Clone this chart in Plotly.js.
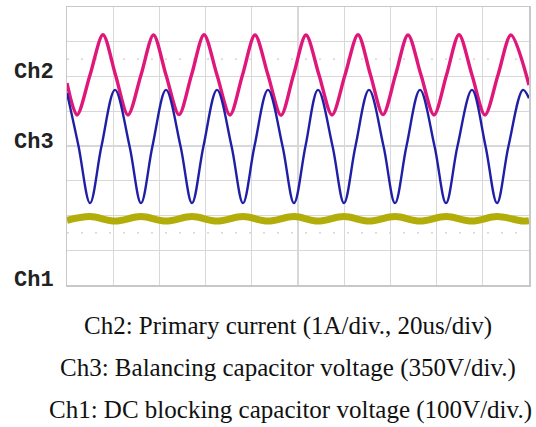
<!DOCTYPE html>
<html>
<head>
<meta charset="utf-8">
<script src="https://cdn.plot.ly/plotly-3.0.1.min.js"></script>
<style>html,body{margin:0;padding:0;background:#fff;}#chart{width:536px;height:427px;}</style>
</head>
<body>
<div id="chart"></div>
<script>
// Time axis in microseconds (20 us/div, 10 div)
// Ch2: primary current (A), 1 A/div
const ch2Time = [0, 4.33, 9.96, 15.58, 21.0, 26.41, 32.03, 37.45, 42.86, 48.48, 53.90, 59.31, 64.94, 70.56, 75.97, 81.39, 87.01, 92.64, 98.05, 103.46, 109.09, 114.72, 120.35, 125.97, 131.39, 136.80, 142.21, 147.62, 153.25, 158.87, 164.29, 169.70, 175.32, 180.95, 186.58, 192.21, 200];
const ch2Current = [-0.23, -1.15, 0, 1.16, 0, -1.15, 0, 1.15, 0, -1.14, 0, 1.16, 0, -1.15, 0, 1.15, 0, -1.16, 0, 1.15, 0, -1.15, 0, 1.16, 0, -1.14, 0, 1.15, 0, -1.15, 0, 1.16, 0, -1.15, 0, 1.15, -0.29];

// Ch3: balancing capacitor voltage (V), 350 V/div
const ch3Time = [0, 4.98, 9.96, 14.94, 20.78, 27.06, 32.03, 37.01, 42.86, 49.13, 54.11, 59.09, 64.94, 71.21, 76.19, 81.17, 87.01, 93.29, 98.27, 103.25, 108.66, 114.94, 119.91, 124.89, 130.74, 137.01, 141.99, 146.97, 152.82, 159.09, 164.07, 169.05, 175.32, 181.17, 186.15, 191.13, 197.40, 200];
const ch3Voltage = [534, 0, -575, 0, 565, 0, -575, 0, 565, 0, -575, 0, 565, 0, -575, 0, 565, 0, -575, 0, 565, 0, -575, 0, 565, 0, -575, 0, 565, 0, -575, 0, 565, 0, -575, 0, 565, 480];

// Ch1: DC blocking capacitor voltage (V), 100 V/div
const ch1Time = [0, 9.96, 20.78, 32.03, 42.86, 54.11, 64.94, 76.19, 87.01, 98.27, 108.66, 119.91, 130.74, 141.99, 152.82, 164.07, 175.32, 186.15, 197.40, 200];
const ch1Voltage = [180, 191, 178, 191, 178, 191, 178, 191, 178, 191, 178, 191, 178, 191, 178, 191, 178, 191, 178, 179];

const captions = [
  "Ch2: Primary current (1A/div., 20us/div)",
  "Ch3: Balancing capacitor voltage (350V/div.)",
  "Ch1: DC blocking capacitor voltage (100V/div.)"
];
const channelLabels = ["Ch2", "Ch3", "Ch1"];

const pink = '#e0177a', blue = '#1f1fa6', olive = '#b2ad08';

const traces = [
  {x: ch1Time, y: ch1Voltage, yaxis: 'y4', mode: 'lines', line: {color: olive, width: 7, shape: 'spline', smoothing: 1}, hoverinfo: 'skip'},
  {x: ch3Time, y: ch3Voltage, yaxis: 'y3', mode: 'lines', line: {color: blue, width: 2.4, shape: 'spline', smoothing: 1}, hoverinfo: 'skip'},
  {x: ch2Time, y: ch2Current, yaxis: 'y2', mode: 'lines', line: {color: pink, width: 3.4, shape: 'spline', smoothing: 0.85}, hoverinfo: 'skip'},
  // ground markers
  {x: [-2.2], y: [0], yaxis: 'y2', mode: 'markers', marker: {symbol: 'square', size: 5, color: '#f0a0c0'}, cliponaxis: false},
  {x: [-2.2], y: [0], yaxis: 'y3', mode: 'markers', marker: {symbol: 'square', size: 5, color: '#9090d0'}, cliponaxis: false},
  {x: [-2.2], y: [0], yaxis: 'y4', mode: 'markers', marker: {symbol: 'square', size: 5, color: '#d8e080'}, cliponaxis: false},
  // trigger markers
  {x: [201], y: [2.76], yaxis: 'y', mode: 'markers', marker: {symbol: 'triangle-left', size: 6, color: pink}, cliponaxis: false},
  {x: [100], y: [-4.1], yaxis: 'y', mode: 'markers', marker: {symbol: 'triangle-up', size: 5, color: pink}, cliponaxis: false}
];

const hidden = {overlaying: 'y', showgrid: false, zeroline: false, showticklabels: false, ticks: '', fixedrange: true};
const labelFont = {family: '"Liberation Mono", "DejaVu Sans Mono", monospace', size: 22, color: '#222', weight: 'bold'};
const capFont = {family: '"Liberation Serif", "DejaVu Serif", serif', size: 25, color: '#111'};

const layout = {
  width: 536, height: 427,
  margin: {l: 67, r: 7, t: 7, b: 142},
  paper_bgcolor: '#ffffff', plot_bgcolor: '#ffffff',
  showlegend: false,
  xaxis: {range: [0, 200], dtick: 20, tick0: 0, showgrid: true, gridcolor: '#d8d8d8', gridwidth: 1.2,
          zeroline: false, showticklabels: false, ticks: '', showline: true, mirror: true, linecolor: '#c8c8c8', linewidth: 1.5},
  yaxis: {range: [-4, 4], dtick: 1, tick0: 0, showgrid: true, gridcolor: '#d8d8d8', gridwidth: 1.2,
          zeroline: false, showticklabels: false, ticks: '', showline: true, mirror: true, linecolor: '#c8c8c8', linewidth: 1.5},
  yaxis2: Object.assign({range: [-6.043, 1.957]}, hidden),
  yaxis3: Object.assign({range: [-1400, 1400]}, hidden),
  yaxis4: Object.assign({range: [-6, 794]}, hidden),
  shapes: [
    {type: 'line', xref: 'x', yref: 'y', x0: 0, x1: 200, y0: 0, y1: 0, line: {color: '#a0a0a0', width: 1.5, dash: 'dot'}, layer: 'below'},
    {type: 'line', xref: 'x', yref: 'y', x0: 100, x1: 100, y0: -4, y1: 4, line: {color: '#a0a0a0', width: 1.5, dash: 'dot'}, layer: 'below'},
    {type: 'line', xref: 'x', yref: 'y', x0: 0, x1: 200, y0: 2.5, y1: 2.5, line: {color: '#d0d0d0', width: 1.2, dash: '2px,12px'}, layer: 'below'},
    {type: 'line', xref: 'x', yref: 'y', x0: 0, x1: 200, y0: -2.5, y1: -2.5, line: {color: '#d0d0d0', width: 1.2, dash: '2px,12px'}, layer: 'below'}
  ],
  annotations: [
    {text: channelLabels[0], xref: 'paper', yref: 'y', x: -0.024, y: 2.12, xanchor: 'right', yanchor: 'middle', showarrow: false, font: labelFont},
    {text: channelLabels[1], xref: 'paper', yref: 'y', x: -0.024, y: 0.1, xanchor: 'right', yanchor: 'middle', showarrow: false, font: labelFont},
    {text: channelLabels[2], xref: 'paper', yref: 'y', x: -0.024, y: -3.86, xanchor: 'right', yanchor: 'middle', showarrow: false, font: labelFont},
    {text: captions[0], xref: 'paper', yref: 'paper', x: (82 - 67) / 462, y: -(326 - 285) / 278, xanchor: 'left', yanchor: 'middle', showarrow: false, font: capFont},
    {text: captions[1], xref: 'paper', yref: 'paper', x: (58 - 67) / 462, y: -(368 - 285) / 278, xanchor: 'left', yanchor: 'middle', showarrow: false, font: capFont},
    {text: captions[2], xref: 'paper', yref: 'paper', x: (47 - 67) / 462, y: -(410 - 285) / 278, xanchor: 'left', yanchor: 'middle', showarrow: false, font: capFont}
  ]
};

Plotly.newPlot('chart', traces, layout, {staticPlot: true, displayModeBar: false});
</script>
</body>
</html>
